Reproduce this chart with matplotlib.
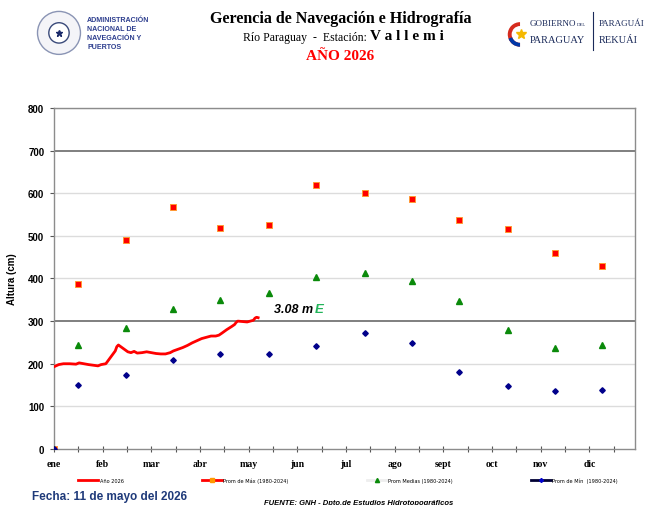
"""
Nivel del Rio Paraguay en Vallemi, año en curso frente a los
promedios mensuales historicos (1980-2024).
"""
import matplotlib
matplotlib.use('Agg')
import matplotlib.pyplot as plt
from matplotlib.patches import Circle, Wedge
import numpy as np

# --- datos ---------------------------------------------------------------
meses = ['ene', 'feb', 'mar', 'abr', 'may', 'jun', 'jul', 'ago', 'sept', 'oct', 'nov', 'dic']
# dia del año (punto de origen + mitad de cada mes)
dias_prom = [0, 15, 46, 76, 106, 137, 167, 198, 228, 258, 289, 319, 349]
prom_max = [0, 388, 491, 567, 518, 526, 620, 601, 586, 538, 516, 459, 430]
prom_med = [0, 245, 284, 329, 350, 367, 403, 412, 394, 348, 280, 237, 243]
prom_min = [0, 149, 173, 209, 222, 224, 242, 272, 249, 180, 148, 137, 139]

# altura diaria 2026 (cm)
dias_2026 = [0, 3, 6, 10, 14, 16, 19, 22, 26, 28, 30, 33, 36, 39, 40, 41, 44, 47, 49,
             51, 53, 56, 59, 62, 65, 68, 71, 74, 76, 79, 82, 85, 88, 91, 94, 97, 100,
             103, 105, 107, 110, 113, 115, 116, 117, 120, 123, 125, 127, 128, 129, 130]
altura_2026 = [193, 198, 200, 200, 199, 202, 200, 198, 196, 195, 198, 200, 215, 230, 240,
               244, 236, 228, 226, 229, 225, 226, 228, 226, 224, 223, 223, 226, 230, 234,
               238, 243, 249, 254, 259, 262, 265, 265, 267, 272, 280, 287, 292, 297, 300,
               299, 298, 300, 302, 307, 309, 308]

fig = plt.figure(figsize=(6.46, 5.06), dpi=100)
ax = fig.add_axes([0.0836, 0.1107, 0.8994, 0.6739])

# grilla horizontal
for v in range(100, 801, 100):
    if v in (300, 700):
        ax.axhline(v, color='#7f7f7f', lw=1.4, zorder=1)
    else:
        ax.axhline(v, color='#dcdcdc', lw=1.0, zorder=1)

l1, = ax.plot(dias_2026, altura_2026, color='#ff0000', lw=2.0, zorder=4)
l2, = ax.plot(dias_prom, prom_max, ls='none', marker='s', ms=4.3, mfc='#ff0000',
              mec='#ff9933', mew=0.7, zorder=5)
l3, = ax.plot(dias_prom, prom_med, ls='none', marker='^', ms=4.3, mfc='#0a8a0a',
              mec='#0a8a0a', zorder=5)
l4, = ax.plot(dias_prom, prom_min, ls='none', marker='D', ms=2.8, mfc='#00008b',
              mec='#00008b', zorder=5)

ax.text(140, 328, '3.08 m', fontsize=9, fontweight='bold', style='italic',
        family='Liberation Sans', va='center', zorder=6)
ax.text(166, 328, 'E', fontsize=9.5, fontweight='bold', style='italic',
        family='Liberation Sans', color='#22b45a', va='center', zorder=6)

ax.set_xlim(0, 370)
ax.set_ylim(0, 800)
ax.set_yticks(range(0, 801, 100))
ax.set_yticklabels([str(v) for v in range(0, 801, 100)], fontsize=7, fontweight='bold',
                   family='Liberation Sans')
ax.set_xticks([31 * i for i in range(12)])
ax.set_xticklabels(meses, fontsize=7, fontweight='bold', family='Liberation Serif')
ax.set_xticks(np.arange(0, 370, 15.5), minor=True)
ax.tick_params(axis='x', which='both', direction='inout', length=4, width=0.8,
               color='#555555', pad=5)
ax.tick_params(axis='y', direction='out', length=3, color='#555555', pad=4)
for s in ax.spines.values():
    s.set_color('#8c8c8c')
    s.set_linewidth(1.0)
ax.set_ylabel('Altura (cm)', fontsize=7, fontweight='bold', family='Liberation Sans',
              labelpad=8)

# leyenda
h2, = ax.plot([], [], color='#ff0000', lw=2, marker='s', ms=3, mfc='#ff9900', mec='#ff9900')
h3, = ax.plot([], [], color='#eeeeee', lw=2, marker='^', ms=3, mfc='#0a8a0a', mec='#0a8a0a')
h4, = ax.plot([], [], color='#000033', lw=2, marker='D', ms=2, mfc='#0000cc', mec='#0000cc')
fig.legend([l1, h2, h3, h4],
           ['Año 2026', 'Prom de Máx (1980-2024)', 'Prom Medias (1980-2024)',
            'Prom de Mín  (1980-2024)'],
           loc='center', bbox_to_anchor=(0.539, 0.049), ncol=4, frameon=False,
           fontsize=3.6, handlelength=4.0, handletextpad=0.3, columnspacing=15.6)

# encabezado
fig.text(0.527, 0.963, 'Gerencia de Navegación e Hidrografía', ha='center', va='center',
         fontsize=11.5, fontweight='bold', family='Liberation Serif')
fig.text(0.573, 0.925, 'Río Paraguay  -  Estación: ', ha='right', va='center',
         fontsize=8.5, family='Liberation Serif')
fig.text(0.573, 0.927, 'V a l l e m i', ha='left', va='center',
         fontsize=11, fontweight='bold', family='Liberation Serif')
fig.text(0.527, 0.888, 'AÑO 2026', ha='center', va='center', color='#ff0000',
         fontsize=11, fontweight='bold', family='Liberation Serif')

# logo ANNP
lax = fig.add_axes([0.0563, 0.878, 0.07, 0.11])
lax.set_xlim(-1, 1)
lax.set_ylim(-1, 1)
lax.set_aspect('equal')
lax.axis('off')
lax.add_patch(Circle((0, 0), 0.95, fc='#f4f4f8', ec='#8a94b4', lw=1.0))
lax.add_patch(Circle((0, 0), 0.45, fc='white', ec='#3a4a7a', lw=1.0))
lax.plot([0], [0], marker='*', ms=5, color='#1a2a6a')
fig.text(0.1347, 0.933, 'ADMINISTRACIÓN\nNACIONAL DE\nNAVEGACIÓN Y\nPUERTOS', ha='left',
         va='center', fontsize=5.1, fontweight='bold', color='#2e3f8f',
         family='Liberation Sans', linespacing=1.37)

# logo gobierno
gax = fig.add_axes([0.785, 0.89, 0.04, 0.08])
gax.set_xlim(-1, 1)
gax.set_ylim(-1, 1)
gax.set_aspect('equal')
gax.axis('off')
gax.add_patch(Wedge((0, 0), 0.95, 90, 270, width=0.3, fc='#d52b1e'))
gax.add_patch(Wedge((0, 0), 0.95, 200, 270, width=0.3, fc='#0038a8'))
gax.plot([0.1], [0], marker='*', ms=7, color='#f5b800')
fig.text(0.82, 0.953, 'GOBIERNO', ha='left', va='center', fontsize=6.5,
         family='Liberation Serif', color='#1a2a5a')
fig.text(0.893, 0.951, 'DEL', ha='left', va='center', fontsize=3.5,
         family='Liberation Serif', color='#1a2a5a')
fig.text(0.82, 0.92, 'PARAGUAY', ha='left', va='center', fontsize=7.5,
         family='Liberation Serif', color='#1a2a5a')
fig.add_artist(plt.Line2D([0.918, 0.918], [0.9, 0.975], color='#1a2a5a', lw=0.8))
fig.text(0.927, 0.953, 'PARAGUÁI', ha='left', va='center', fontsize=6.5,
         family='Liberation Serif', color='#1a2a5a')
fig.text(0.927, 0.92, 'REKUÁI', ha='left', va='center', fontsize=7.5,
         family='Liberation Serif', color='#1a2a5a')

# pie
fig.text(0.05, 0.017, 'Fecha: 11 de mayo del 2026', ha='left', va='center',
         fontsize=8.5, fontweight='bold', color='#1f3a7a', family='Liberation Sans')
fig.text(0.555, 0.005, 'FUENTE: GNH - Dpto.de Estudios Hidrotopográficos', ha='center',
         va='center', fontsize=5.5, style='italic', fontweight='bold',
         family='Liberation Sans')

fig.savefig('out.png', dpi=100)
